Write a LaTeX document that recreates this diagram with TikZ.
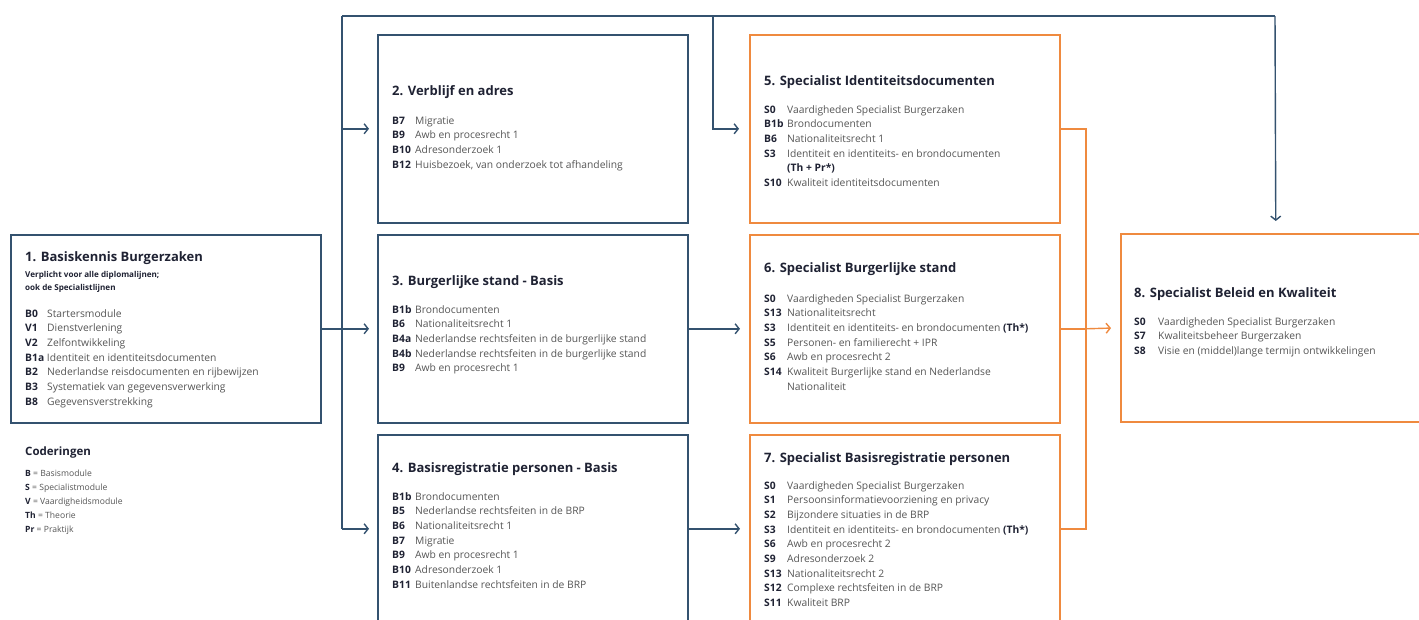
\documentclass[tikz,border=0pt]{standalone}
\usepackage{fontspec}
\setmainfont{Open Sans}
\usetikzlibrary{arrows.meta}
\definecolor{navy}{HTML}{34526F}
\definecolor{orng}{HTML}{EF8A3F}
\definecolor{desc}{HTML}{555555}
\definecolor{codec}{HTML}{1F2233}
\newcommand\cd[1]{\textcolor{codec}{\bfseries #1}}
\newcommand\itemfont{\fontsize{10.3}{14.7}\selectfont}
\newcommand\lst[2][23pt]{\begin{tabular}[t]{@{}p{#1}@{}l@{}}#2\end{tabular}}
\newcommand\ltab[1]{\begin{tabular}[t]{@{}l@{}}#1\end{tabular}}
\tikzset{
  bx/.style={draw=navy, line width=1.6pt, minimum width=310pt, minimum height=188pt, anchor=north west, inner sep=0pt},
  obx/.style={bx, draw=orng},
  ttl/.style={anchor=base west, inner sep=0pt, font=\bfseries\fontsize{13}{15}\selectfont, text=codec},
  lstn/.style={anchor=base west, inner sep=0pt, font=\itemfont, text=desc},
  nline/.style={draw=navy, line width=1.4pt},
  oline/.style={draw=orng, line width=1.4pt},
  arr/.style={-{Straight Barb[length=4pt,width=10pt]}, line width=1.4pt},
}
\begin{document}
\begin{tikzpicture}[x=1pt,y=-1pt]
\useasboundingbox (0,0) rectangle (1419,619);
% boxes
\node[bx] (b1) at (10,234) {};
\node[bx] (b2) at (377,34) {};
\node[bx] (b3) at (377,234) {};
\node[bx] (b4) at (377,434) {};
\node[obx] (b5) at (749,34) {};
\node[obx] (b6) at (749,234) {};
\node[obx] (b7) at (749,434) {};
\node[obx] (b8) at (1120,233) {};

% box 1
\node[ttl] (t1) at (25,261) {1. Basiskennis Burgerzaken};
\node[anchor=base west, inner sep=0pt, font=\bfseries\fontsize{8.1}{13}\selectfont, text=codec] (s1) at (25,277) {\ltab{Verplicht voor alle diplomalijnen;\\ook de Specialistlijnen}};
\node[lstn] (l1) at (25,317) {\lst[22pt]{
\cd{B0} & Startersmodule\\
\cd{V1} & Dienstverlening\\
\cd{V2} & Zelfontwikkeling\\
\multicolumn{2}{@{}l@{}}{\cd{B1a} Identiteit en identiteitsdocumenten}\\
\cd{B2} & Nederlandse reisdocumenten en rijbewijzen\\
\cd{B3} & Systematiek van gegevensverwerking\\
\cd{B8} & Gegevensverstrekking}};

% coderingen
\node[anchor=base west, inner sep=0pt, font=\bfseries\fontsize{11.5}{13}\selectfont, text=codec] (ct) at (25,455) {Coderingen};
\node[anchor=base west, inner sep=0pt, font=\fontsize{8.6}{14}\selectfont, text=desc] (cl) at (25,476) {\ltab{\cd{B} = Basismodule\\\cd{S} = Specialistmodule\\\cd{V} = Vaardigheidsmodule\\\cd{Th} = Theorie\\\cd{Pr} = Praktijk}};

% box 2
\node[ttl] (t2) at (392,95) {2. Verblijf en adres};
\node[lstn] (l2) at (392,124) {\lst{
\cd{B7} & Migratie\\
\cd{B9} & Awb en procesrecht 1\\
\cd{B10} & Adresonderzoek 1\\
\cd{B12} & Huisbezoek, van onderzoek tot afhandeling}};

% box 3
\node[ttl] (t3) at (392,285) {3. Burgerlijke stand - Basis};
\node[lstn] (l3) at (392,313) {\lst{
\cd{B1b} & Brondocumenten\\
\cd{B6} & Nationaliteitsrecht 1\\
\cd{B4a} & Nederlandse rechtsfeiten in de burgerlijke stand\\
\cd{B4b} & Nederlandse rechtsfeiten in de burgerlijke stand\\
\cd{B9} & Awb en procesrecht 1}};

% box 4
\node[ttl] (t4) at (392,472) {4. Basisregistratie personen - Basis};
\node[lstn] (l4) at (392,500) {\lst{
\cd{B1b} & Brondocumenten\\
\cd{B5} & Nederlandse rechtsfeiten in de BRP\\
\cd{B6} & Nationaliteitsrecht 1\\
\cd{B7} & Migratie\\
\cd{B9} & Awb en procesrecht 1\\
\cd{B10} & Adresonderzoek 1\\
\cd{B11} & Buitenlandse rechtsfeiten in de BRP}};

% box 5
\node[ttl] (t5) at (764,85) {5. Specialist Identiteitsdocumenten};
\node[lstn] (l5) at (764,113) {\lst{
\cd{S0} & Vaardigheden Specialist Burgerzaken\\
\cd{B1b} & Brondocumenten\\
\cd{B6} & Nationaliteitsrecht 1\\
\cd{S3} & Identiteit en identiteits- en brondocumenten\\
 & \cd{(Th + Pr*)}\\
\cd{S10} & Kwaliteit identiteitsdocumenten}};

% box 6
\node[ttl] (t6) at (764,272) {6. Specialist Burgerlijke stand};
\node[lstn] (l6) at (764,302) {\lst{
\cd{S0} & Vaardigheden Specialist Burgerzaken\\
\cd{S13} & Nationaliteitsrecht\\
\cd{S3} & Identiteit en identiteits- en brondocumenten \cd{(Th*)}\\
\cd{S5} & Personen- en familierecht + IPR\\
\cd{S6} & Awb en procesrecht 2\\
\cd{S14} & Kwaliteit Burgerlijke stand en Nederlandse\\
 & Nationaliteit}};

% box 7
\node[ttl] (t7) at (764,462) {7. Specialist Basisregistratie personen};
\node[lstn] (l7) at (764,489) {\lst{
\cd{S0} & Vaardigheden Specialist Burgerzaken\\
\cd{S1} & Persoonsinformatievoorziening en privacy\\
\cd{S2} & Bijzondere situaties in de BRP\\
\cd{S3} & Identiteit en identiteits- en brondocumenten \cd{(Th*)}\\
\cd{S6} & Awb en procesrecht 2\\
\cd{S9} & Adresonderzoek 2\\
\cd{S13} & Nationaliteitsrecht 2\\
\cd{S12} & Complexe rechtsfeiten in de BRP\\
\cd{S11} & Kwaliteit BRP}};

% box 8
\node[ttl] (t8) at (1134,297) {8. Specialist Beleid en Kwaliteit};
\node[lstn] (l8) at (1134,325) {\lst[24pt]{
\cd{S0} & Vaardigheden Specialist Burgerzaken\\
\cd{S7} & Kwaliteitsbeheer Burgerzaken\\
\cd{S8} & Visie en (middel)lange termijn ontwikkelingen}};

% connector coordinates
\coordinate (vx) at (342,16);
\coordinate (vt) at (713,16);
\coordinate (tr) at (1275,16);
\coordinate (oj) at (1086,0);

% navy connectors
\draw[nline] (b1.east) -- (b1.east -| vx);
\draw[nline] (vx) -- (vx |- b4.west);
\draw[nline, arr, shorten >=8pt] (vx |- b2.west) -- (b2.west);
\draw[nline, arr, shorten >=8pt] (vx |- b3.west) -- (b3.west);
\draw[nline, arr, shorten >=8pt] (vx |- b4.west) -- (b4.west);
\draw[nline] (vx) -- (tr);
\draw[nline, arr, shorten >=12pt] (tr) -- (b8.north);
\draw[nline, arr, shorten >=10pt] (vt) |- (b5.west);
\draw[nline, arr, shorten >=9pt] (b3.east) -- (b6.west);
\draw[nline, arr, shorten >=9pt] (b4.east) -- (b7.west);

% orange connectors
\draw[oline] (b5.east) -- (b5.east -| oj) -- (b7.east -| oj) -- (b7.east);
\draw[oline] (b6.east) -- (b6.east -| oj);
\draw[oline, arr, shorten >=9pt] (b6.east -| oj) -- (b8.west);
\end{tikzpicture}
\end{document}
